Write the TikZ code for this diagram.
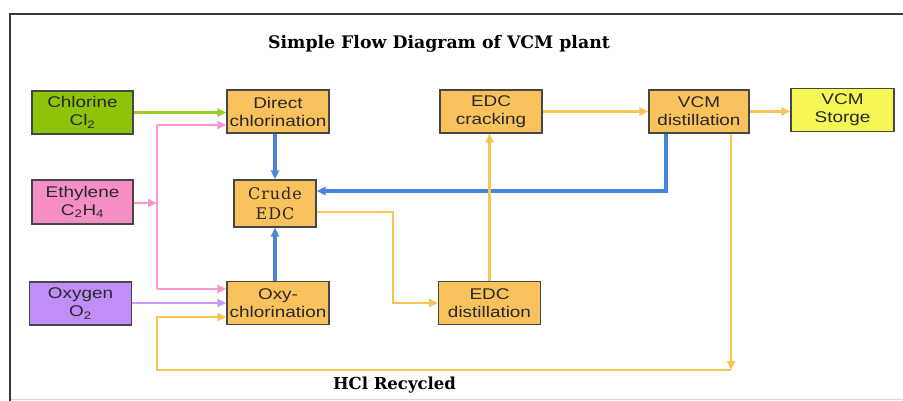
\documentclass[tikz,border=0pt]{standalone}
\usepackage{fontspec}
\setmainfont{Liberation Sans}
\newfontfamily\boxfont[FakeStretch=1.22]{Liberation Sans}
\newfontfamily\slabfont[LetterSpace=6]{DejaVu Serif}
\newfontfamily\titlefont{DejaVu Serif}
\usetikzlibrary{arrows.meta}

\definecolor{framecol}{RGB}{55,55,55}
\definecolor{basecol}{RGB}{215,215,215}
\definecolor{boxline}{RGB}{70,70,70}
\definecolor{textgray}{RGB}{40,40,40}
\definecolor{chlgreen}{RGB}{142,195,10}
\definecolor{ethpink}{RGB}{246,142,198}
\definecolor{oxpurple}{RGB}{192,142,246}
\definecolor{unitorange}{RGB}{249,194,92}
\definecolor{storeyellow}{RGB}{246,246,84}
\definecolor{flowgreen}{RGB}{150,208,40}
\definecolor{flowpink}{RGB}{250,150,205}
\definecolor{flowpurple}{RGB}{205,155,250}
\definecolor{flowblue}{RGB}{72,132,220}
\definecolor{floworange}{RGB}{250,196,85}

\begin{document}
\begin{tikzpicture}[x=1pt,y=-1pt,
  unit/.style={draw=boxline, line width=1.3pt, inner sep=0pt, align=center,
    text=textgray, font=\boxfont\fontsize{15.5}{18}\selectfont,
    minimum width=102pt, minimum height=43pt},
  tip/.style={-{Triangle[length=9pt,width=8pt]}},
  greenflow/.style={draw=flowgreen, line width=2.3pt},
  pinkflow/.style={draw=flowpink, line width=2.3pt},
  purpleflow/.style={draw=flowpurple, line width=2.3pt},
  blueflow/.style={draw=flowblue, line width=3.4pt},
  orangeflow/.style={draw=floworange, line width=2.7pt},
  heading/.style={inner sep=0pt, text=black, font=\titlefont\bfseries\fontsize{16.5}{18}\selectfont}
]
\useasboundingbox (0,0) rectangle (903,401);

% page frame
\draw[basecol, line width=1.5pt] (10,399.5) -- (903,399.5);
\draw[framecol, line width=2.5pt] (10,401) -- (10,14) -- (903,14);

% title and recycle label
\node[heading, font=\titlefont\bfseries\fontsize{17.3}{19}\selectfont] (title) at (439,44) {Simple Flow Diagram of VCM plant};
\node[heading] (hcl) at (394.5,385) {HCl Recycled};

% feed streams
\node[unit, fill=chlgreen, minimum width=101pt] (chl) at (82.5,112.5) {Chlorine\\Cl\textsubscript{2}};
\node[unit, fill=ethpink, minimum width=101pt, minimum height=44pt] (eth) at (82.5,202) {Ethylene\\C\textsubscript{2}H\textsubscript{4}};
\node[unit, fill=oxpurple] (oxy) at (80.5,303.5) {Oxygen\\O\textsubscript{2}};

% process units
\node[unit, fill=unitorange] (dc) at (278,111.5) {Direct\\chlorination};
\node[unit, fill=unitorange, minimum width=82pt, minimum height=47pt,
      font=\slabfont\fontsize{16}{20}\selectfont] (crude) at (275,203.5) {Crude\\EDC};
\node[unit, fill=unitorange] (oxc) at (278,303) {Oxy-\\chlorination};
\node[unit, fill=unitorange] (crack) at (491,111.5) {EDC\\cracking};
\node[unit, fill=unitorange] (edcd) at (489.5,303) {EDC\\distillation};
\node[unit, fill=unitorange, minimum width=100pt] (vcmd) at (699,111.5) {VCM\\distillation};
\node[unit, fill=storeyellow, minimum width=103pt] (stor) at (842.5,110) {VCM\\Storge};

% routing points
\coordinate (ebus) at (157,203);
\coordinate (btop) at (157,125);
\coordinate (bbot) at (157,289);
\coordinate (hclcorner) at (731,370);
\coordinate (hclleft) at (157,370);
\coordinate (hclup) at (157,317);
\coordinate (bluecorner) at (666,191);
\coordinate (ocorner) at (393,212);

% chlorine and oxygen feeds
\draw[greenflow, tip] (chl.east) -- (chl.east -| dc.west);
\draw[purpleflow, tip] (oxy.east |- oxc.west) -- (oxc.west);

% ethylene header
\draw[pinkflow, tip] (eth.east |- ebus) -- (ebus);
\draw[pinkflow] (btop) -- (bbot);
\draw[pinkflow, tip] (btop) -- (btop -| dc.west);
\draw[pinkflow, tip] (bbot) -- (bbot -| oxc.west);

% crude EDC collection and light ends return
\draw[blueflow, tip] (dc.south -| crude.north) -- (crude.north);
\draw[blueflow, tip] (oxc.north -| crude.south) -- (crude.south);
\draw[blueflow, tip] (vcmd.south -| bluecorner) -- (bluecorner) -- (bluecorner -| crude.east);

% EDC purification and cracking train
\draw[orangeflow, tip] (ocorner -| crude.east) -- (ocorner) -- (ocorner |- edcd.west) -- (edcd.west);
\draw[orangeflow, tip] (edcd.north) -- (edcd.north |- crack.south);
\draw[orangeflow, tip] (crack.east) -- (crack.east -| vcmd.west);
\draw[orangeflow, tip] (vcmd.east) -- (vcmd.east -| stor.west);

% HCl recycle loop
\draw[orangeflow, tip] (vcmd.south -| hclcorner) -- (hclcorner);
\draw[orangeflow, tip] (hclcorner) -- (hclleft) -- (hclup) -- (hclup -| oxc.west);
\end{tikzpicture}
\end{document}
